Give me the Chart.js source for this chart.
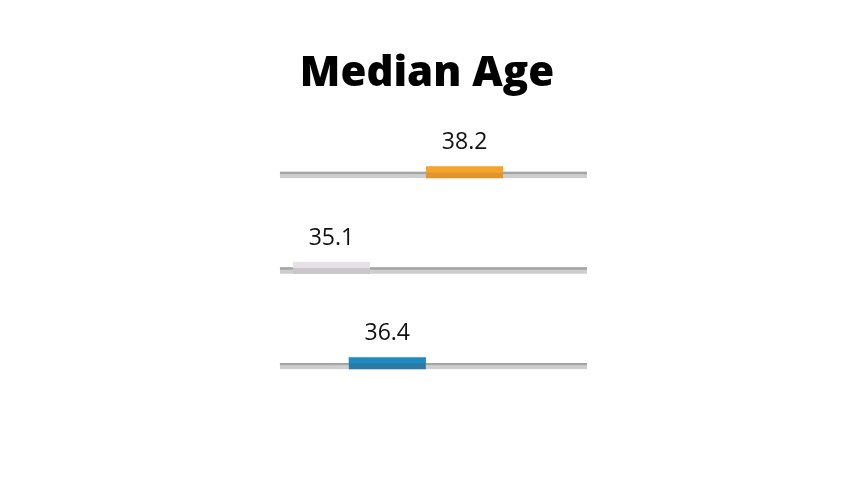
<!DOCTYPE html>
<html>
<head>
<meta charset="utf-8">
<title>Median Age</title>
<script src="https://cdn.jsdelivr.net/npm/chart.js@4.4.0/dist/chart.umd.min.js"></script>
<style>
  html, body { margin: 0; padding: 0; background: #fff; }
  #wrap { width: 854px; height: 480px; position: relative; }
</style>
</head>
<body>
<div id="wrap"><canvas id="chart-idade"></canvas></div>
<script>
// dados
var linhas = ["Linha 1", "Linha 2", "Linha 3"];
var idadeMediana = [38.2, 35.1, 36.4];
var escalaMin = 33.6;
var escalaMax = 41.05;
var trilhoInicio = 33.9;
var trilhoFim = 41.05;
var meiaLargura = 0.9; // metade do segmento colorido, em anos

var corTopo = ["#f5a427", "#e6e1e6", "#1f8ac2"];
var corBase = ["#e0952e", "#cbc6cb", "#2b7aa5"];

// rotulo com o valor acima de cada segmento
var rotulos = {
  id: "rotulos",
  afterDatasetsDraw: function (chart) {
    var meta = chart.getDatasetMeta(0);
    var ctx = chart.ctx;
    ctx.save();
    ctx.font = "23px 'Open Sans'";
    ctx.fillStyle = "#111";
    ctx.textAlign = "center";
    ctx.textBaseline = "alphabetic";
    meta.data.forEach(function (barra, i) {
      var centro = (barra.x + barra.base) / 2;
      var topo = barra.y - barra.height / 2;
      ctx.fillText(idadeMediana[i].toFixed(1), centro, topo - 17);
    });
    ctx.restore();
  }
};

var ctx1 = document.getElementById("chart-idade").getContext("2d");

var grafico = new Chart(ctx1, {
  type: "bar",
  data: {
    labels: linhas,
    datasets: [
      {
        // segmento colorido
        data: idadeMediana.map(function (v) { return [v - meiaLargura, v + meiaLargura]; }),
        backgroundColor: corTopo,
        borderColor: corBase,
        borderWidth: { top: 0, right: 0, bottom: 6, left: 0 },
        borderSkipped: false,
        barThickness: 12,
        order: 0,
      },
      {
        // linha escura do trilho
        data: linhas.map(function () { return [trilhoInicio, trilhoFim]; }),
        backgroundColor: "#a4a4a4",
        borderColor: "rgba(0,0,0,0)",
        borderWidth: { top: 2, right: 0, bottom: 0, left: 0 },
        borderSkipped: false,
        barThickness: 4,
        order: 1,
      },
      {
        // trilho claro
        data: linhas.map(function () { return [trilhoInicio, trilhoFim]; }),
        backgroundColor: "#cecece",
        borderColor: "rgba(0,0,0,0)",
        borderWidth: { top: 6, right: 0, bottom: 0, left: 0 },
        borderSkipped: false,
        barThickness: 12,
        order: 2,
      },
    ],
  },
  options: {
    indexAxis: "y",
    responsive: true,
    maintainAspectRatio: false,
    animation: false,
    grouped: false,
    layout: {
      padding: { left: 267, right: 267, top: 0, bottom: 69 },
    },
    plugins: {
      legend: { display: false },
      tooltip: { enabled: false },
      title: {
        display: true,
        text: "Median Age",
        color: "#000",
        font: { family: "Open Sans", size: 42, weight: 800, lineHeight: 1.2 },
        padding: { top: 49, bottom: 25 },
      },
    },
    scales: {
      x: {
        type: "linear",
        min: escalaMin,
        max: escalaMax,
        display: false,
      },
      y: {
        display: false,
        grid: { display: false },
      },
    },
  },
  plugins: [rotulos],
});
</script>
</body>
</html>
